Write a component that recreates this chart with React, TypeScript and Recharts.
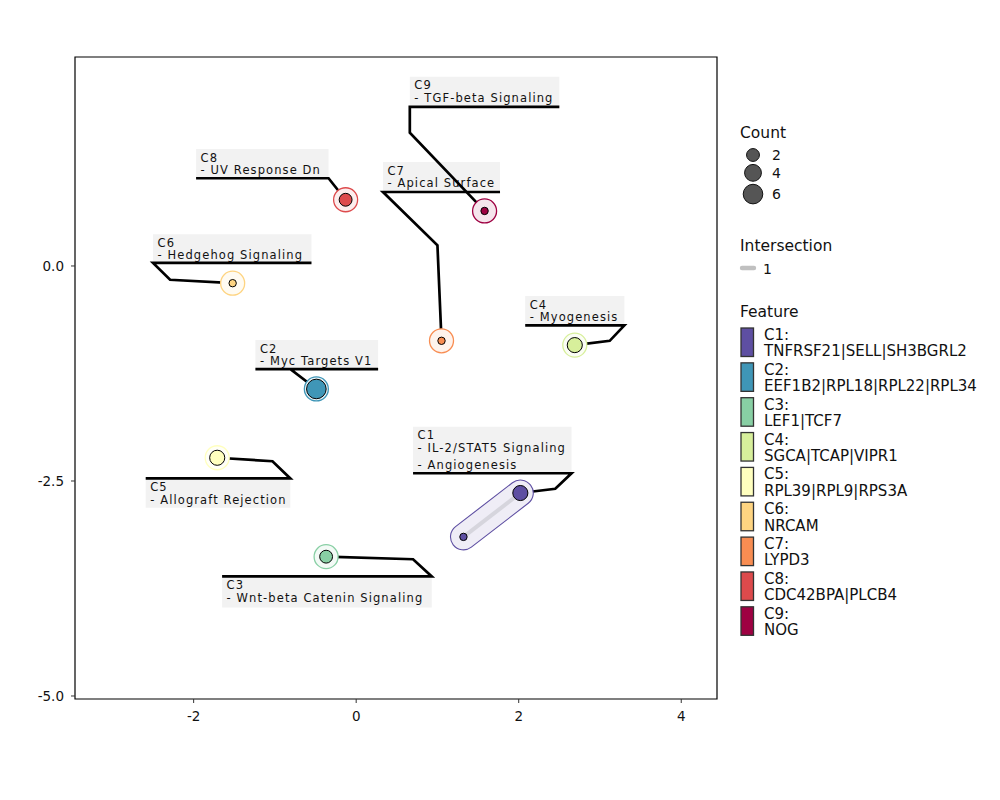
import React from 'react';
import { ScatterChart, Scatter, XAxis, YAxis, ReferenceArea } from 'recharts';

const FONT = '"DejaVu Sans", Verdana, sans-serif';

// clusters and their legend text
const clusters = ['C1', 'C2', 'C3', 'C4', 'C5', 'C6', 'C7', 'C8', 'C9'];
const clusterColors = ['#5E4FA2', '#3F96B7', '#88CFA4', '#D7EF9B', '#FFFFBF', '#FED481', '#F88D52', '#DD4A4C', '#9E0142'];
const clusterGenes = [
  'TNFRSF21|SELL|SH3BGRL2', 'EEF1B2|RPL18|RPL22|RPL34', 'LEF1|TCF7', 'SGCA|TCAP|VIPR1',
  'RPL39|RPL9|RPS3A', 'NRCAM', 'LYPD3', 'CDC42BPA|PLCB4', 'NOG',
];
const clusterPathways = [
  ['IL-2/STAT5 Signaling', 'Angiogenesis'], ['Myc Targets V1'], ['Wnt-beta Catenin Signaling'],
  ['Myogenesis'], ['Allograft Rejection'], ['Hedgehog Signaling'], ['Apical Surface'],
  ['UV Response Dn'], ['TGF-beta Signaling'],
];

// embedded feature points
const pointCluster = [0, 0, 1, 2, 3, 4, 5, 6, 7, 8];
const pointX = [2.02, 1.32, -0.49, -0.37, 2.69, -1.71, -1.52, 1.05, -0.13, 1.58];
const pointY = [-2.64, -3.15, -1.43, -3.38, -0.92, -2.23, -0.2, -0.87, 0.77, 0.64];
const pointCount = [3, 1, 6, 2, 3, 3, 1, 1, 2, 1];

// intersections between points (index pairs)
const intersectionPairs = [[0, 1]];
const intersectionValues = [1];

// repelled label boxes (data units)
const labelX1 = [0.7, -1.24, -1.65, 2.08, -2.59, -2.5, 0.33, -1.97, 0.66];
const labelX2 = [2.65, 0.27, 0.93, 3.3, -0.81, -0.55, 1.77, -0.34, 2.5];
const labelTop = [-1.87, -0.86, -3.61, -0.35, -2.47, 0.37, 1.21, 1.36, 2.2];
const labelBottom = [-2.41, -1.2, -3.97, -0.69, -2.81, 0.035, 0.86, 1.02, 1.85];
const underlineOnTop = [false, false, true, false, true, false, false, false, false];
const leaderAttachX = [2.65, -0.81, 0.93, 3.3, -0.81, -2.5, 0.33, -0.34, 0.66];
const leaderBends: number[][][] = [
  [[2.45, -2.59]], [], [[0.7, -3.41]], [[3.12, -0.87]], [[-1.03, -2.27]],
  [[-2.29, -0.16]], [[1.0, 0.24]], [], [[0.66, 1.55]],
];

const xTicks = [-2, 0, 2, 4];
const yTicks = [0, -2.5, -5];
const countBreaks = [2, 4, 6];

const X_DOMAIN = [-3.46, 4.44];
const Y_DOMAIN = [-5.035, 2.43];

const radius = (count: number) => 3.7 + 6.1 * Math.sqrt((count - 1) / 5);

const points = pointX.map((x, i) => ({
  x, y: pointY[i], cluster: pointCluster[i], count: pointCount[i],
  halo: pointCluster.filter(c => c === pointCluster[i]).length === 1,
}));

const hullClusters = clusters.map((_, c) => c).filter(c => pointCluster.filter(p => p === c).length > 1);

const Empty = () => <g />;

const PointShape = (props: any) => {
  const { cx, cy, payload } = props;
  const col = clusterColors[payload.cluster];
  return (
    <g>
      {payload.halo && (
        <>
          <circle cx={cx} cy={cy} r={12} fill="#fff" />
          <circle cx={cx} cy={cy} r={12} fill={col} fillOpacity={0.1} stroke={col} strokeWidth={1.3} />
        </>
      )}
      <circle cx={cx} cy={cy} r={radius(payload.count)} fill={col} stroke="#000" strokeWidth={1} />
    </g>
  );
};

const LabelText = (props: any) => {
  const { cx, cy, payload } = props;
  return (
    <text fontFamily={FONT} fontSize={11.5} letterSpacing={1.1} fill="#111">
      {payload.lines.map((l: string, i: number) => (
        <tspan key={i} x={cx + 4.5} y={cy + 12.6 * (i + 1) + (i >= 2 ? 4.5 : 0)}>{l}</tspan>
      ))}
    </text>
  );
};

const XTick = ({ x, y, payload }: any) => (
  <text x={x} y={y + 16} textAnchor="middle" fontFamily={FONT} fontSize={13.5} fill="#111">
    {payload.value}
  </text>
);

const YTick = ({ x, y, payload }: any) => (
  <text x={x - 5} y={y + 5} textAnchor="end" fontFamily={FONT} fontSize={13.5} fill="#111">
    {Number(payload.value).toFixed(1)}
  </text>
);

function LegendPanel() {
  const keyH = countBreaks.map(c => 2 * radius(c) + 3);
  const keyY: number[] = [];
  countBreaks.forEach((_, i) => {
    keyY.push(i === 0 ? 147 : keyY[i - 1] + (keyH[i - 1] + keyH[i]) / 2);
  });
  return (
    <svg width={1000} height={792} style={{ position: 'absolute', left: 0, top: 0, pointerEvents: 'none' }}>
      <g fontFamily={FONT} fill="#111">
        <text x={732} y={130} fontSize={15.5}>Count</text>
        {countBreaks.map((c, i) => (
          <g key={c}>
            <circle cx={745} cy={keyY[i]} r={radius(c)} fill="#555" stroke="#111" strokeWidth={1} />
            <text x={764} y={keyY[i] + 5} fontSize={14}>{c}</text>
          </g>
        ))}
        <text x={732} y={243} fontSize={15.5}>Intersection</text>
        {intersectionValues.map((v, i) => (
          <g key={v}>
            <line x1={734} x2={746} y1={260 + i * 20} y2={260 + i * 20} stroke="#c0c0c0" strokeWidth={4.4} strokeLinecap="round" />
            <text x={755} y={265.5 + i * 20} fontSize={14}>{v}</text>
          </g>
        ))}
        <text x={732} y={309} fontSize={15.5}>Feature</text>
        {clusters.map((c, i) => (
          <g key={c}>
            <rect x={733} y={320 + i * 34.85} width={12.5} height={28.5} fill={clusterColors[i]} stroke="#333" strokeWidth={1.3} />
            <text x={756} y={332 + i * 34.85} fontSize={15}>{c}:</text>
            <text x={756} y={348.3 + i * 34.85} fontSize={15}>{clusterGenes[i]}</text>
          </g>
        ))}
      </g>
    </svg>
  );
}

export default function App() {
  const boxes = clusters.map((_, i) => [
    { x: labelX1[i], y: labelTop[i] }, { x: labelX2[i], y: labelTop[i] },
    { x: labelX2[i], y: labelBottom[i] }, { x: labelX1[i], y: labelBottom[i] },
  ]);
  const texts = clusters.map((c, i) => ({
    x: labelX1[i], y: labelTop[i], lines: [c, ...clusterPathways[i].map(p => '- ' + p)],
  }));
  const leaders = clusters.map((_, i) => {
    const yU = underlineOnTop[i] ? labelTop[i] : labelBottom[i];
    const target = points.find(p => p.cluster === i)!;
    return [
      { x: labelX1[i], y: yU }, { x: labelX2[i], y: yU }, { x: leaderAttachX[i], y: yU },
      ...leaderBends[i].map(([x, y]) => ({ x, y })),
      { x: target.x, y: target.y },
    ];
  });
  const hulls = hullClusters.map(c => points.filter(p => p.cluster === c));
  const links = intersectionPairs.map(([a, b]) => [points[a], points[b]]);

  return (
    <div style={{ position: 'relative', width: 1000, height: 792, fontFamily: FONT }}>
      <ScatterChart width={1000} height={792} margin={{ top: 49, right: 291, bottom: 71, left: 17 }}>
        <XAxis type="number" dataKey="x" domain={X_DOMAIN} ticks={xTicks} allowDataOverflow
          axisLine={false} tickSize={4} tickLine={{ stroke: '#333' }} tick={<XTick />} height={30} />
        <YAxis type="number" dataKey="y" domain={Y_DOMAIN} ticks={yTicks} allowDataOverflow
          axisLine={false} tickSize={4} tickLine={{ stroke: '#333' }} tick={<YTick />} width={50} />
        {boxes.map((b, i) => (
          <Scatter key={'box' + i} data={b} shape={<Empty />} isAnimationActive={false}
            line={{ fill: '#f2f2f2', stroke: 'none' }} />
        ))}
        <Scatter data={texts} shape={<LabelText />} isAnimationActive={false} />
        {leaders.map((l, i) => (
          <Scatter key={'lead' + i} data={l} shape={<Empty />} isAnimationActive={false}
            line={{ stroke: '#000', strokeWidth: 2.7, fill: 'none', strokeLinejoin: 'miter' }} />
        ))}
        {hulls.map((h, i) => (
          <Scatter key={'hullo' + i} data={h} shape={<Empty />} isAnimationActive={false}
            line={{ stroke: clusterColors[hullClusters[i]], strokeWidth: 27, strokeLinecap: 'round', fill: 'none' }} />
        ))}
        {hulls.map((h, i) => (
          <Scatter key={'hulli' + i} data={h} shape={<Empty />} isAnimationActive={false}
            line={{ stroke: '#efedf6', strokeWidth: 24.8, strokeLinecap: 'round', fill: 'none' }} />
        ))}
        {links.map((l, i) => (
          <Scatter key={'link' + i} data={l} shape={<Empty />} isAnimationActive={false}
            line={{ stroke: '#d6d5dd', strokeWidth: 4, fill: 'none' }} />
        ))}
        <Scatter data={points} shape={<PointShape />} isAnimationActive={false} />
        <ReferenceArea x1={X_DOMAIN[0]} x2={X_DOMAIN[1]} y1={Y_DOMAIN[0]} y2={Y_DOMAIN[1]}
          fill="none" stroke="#000" strokeWidth={1.2} ifOverflow="visible" />
      </ScatterChart>
      <LegendPanel />
    </div>
  );
}
